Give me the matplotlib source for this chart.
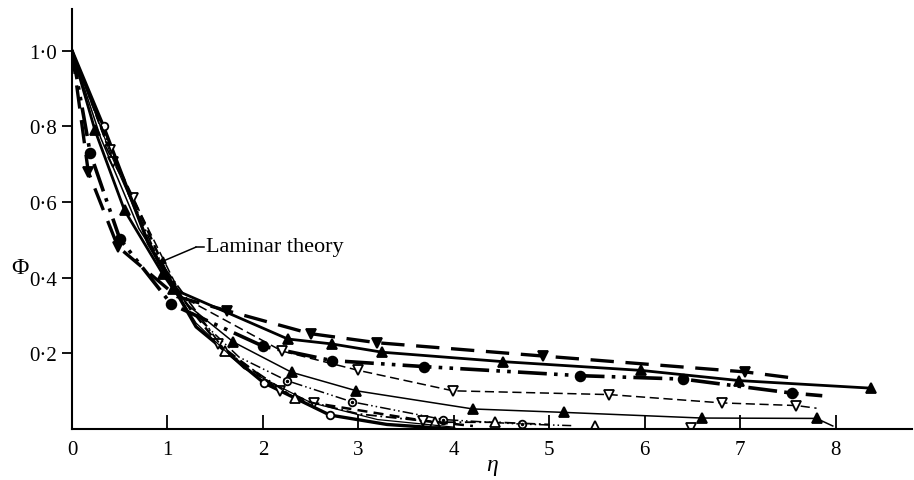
import numpy as np
import matplotlib
matplotlib.use("Agg")
import matplotlib.pyplot as plt

plt.rcParams['font.family'] = ['Liberation Serif', 'DejaVu Serif']

# ---- data (eta, phi) ----
# upper group
tri_down_x = [0, 0.17, 0.48, 1.10, 1.62, 2.50, 3.20, 4.93, 7.05, 7.55]
tri_down_y = [1.0, 0.68, 0.482, 0.35, 0.313, 0.252, 0.228, 0.193, 0.151, 0.135]
tri_down_mk = [1, 2, 4, 5, 6, 7, 8]

tri_up_x = [0, 0.24, 0.55, 0.95, 1.06, 2.26, 2.72, 3.25, 4.52, 5.96, 6.99, 8.37]
tri_up_y = [1.0, 0.79, 0.578, 0.41, 0.37, 0.238, 0.225, 0.203, 0.178, 0.155, 0.128, 0.108]
tri_up_mk = [1, 2, 3, 4, 5, 6, 7, 8, 9, 10, 11]

dot_x = [0, 0.19, 0.50, 1.04, 2.00, 2.72, 3.69, 5.32, 6.40, 7.54, 7.86]
dot_y = [1.0, 0.73, 0.503, 0.33, 0.219, 0.181, 0.165, 0.141, 0.132, 0.095, 0.088]
dot_mk = [1, 2, 3, 4, 5, 6, 7, 8, 9]

otri_down_x = [0, 0.43, 0.64, 1.15, 2.20, 3.00, 3.99, 5.63, 6.81, 7.59, 7.80]
otri_down_y = [1.0, 0.707, 0.61, 0.35, 0.206, 0.155, 0.101, 0.091, 0.069, 0.062, 0.055]
otri_down_mk = [1, 2, 4, 5, 6, 7, 8, 9]

# lower group
tri_up2_x = [0, 0.30, 0.70, 1.20, 1.69, 2.30, 2.98, 4.20, 5.15, 6.60, 7.80, 7.97]
tri_up2_y = [1.0, 0.77, 0.53, 0.33, 0.23, 0.15, 0.101, 0.053, 0.044, 0.029, 0.028, 0.008]
tri_up2_mk = [4, 5, 6, 7, 8, 9, 10]

ring_x = [0, 0.33, 0.75, 1.25, 1.75, 2.25, 2.93, 3.89, 4.71, 5.23]
ring_y = [1.0, 0.80, 0.52, 0.31, 0.19, 0.128, 0.072, 0.025, 0.013, 0.009]
ring_mk = [5, 6, 7, 8]

circ_x = [0, 0.33, 0.80, 1.30, 2.01, 2.70, 3.30, 4.00]
circ_y = [1.0, 0.80, 0.49, 0.27, 0.122, 0.037, 0.012, 0.0]
circ_mk = [1, 4, 5]

otri_down2_x = [0, 0.40, 0.64, 1.05, 1.53, 2.18, 2.53, 3.68, 4.20]
otri_down2_y = [1.0, 0.737, 0.61, 0.38, 0.225, 0.101, 0.069, 0.022, 0.008]
otri_down2_mk = [1, 4, 5, 6, 7]
otri_down2_extra_x = [6.49]
otri_down2_extra_y = [0.004]

otri_up_x = [0, 0.40, 0.90, 1.60, 2.34, 3.00, 3.80, 4.43, 5.00]
otri_up_y = [1.0, 0.74, 0.45, 0.207, 0.081, 0.04, 0.018, 0.018, 0.012]
otri_up_mk = [3, 4, 6, 7]
otri_up_extra_x = [5.48]
otri_up_extra_y = [0.009]

lam_x = [0, 0.40, 0.90, 1.30, 1.80, 2.50, 3.20, 4.00]
lam_y = [1.0, 0.73, 0.44, 0.28, 0.16, 0.07, 0.025, 0.005]

fig = plt.figure(figsize=(9.14, 4.81), dpi=100)
ax = fig.add_axes([0.0788, 0.106, 0.919, 0.873])

def curve(x, y, mk, marker, ls, lw, fill=True, ms=7):
    x = np.array(x)
    y = np.array(y)
    ax.plot(x, y, color='black', ls=ls, lw=lw)
    ax.plot(x[mk], y[mk], ls='none', marker=marker, ms=ms,
            mfc='black' if fill else 'white', mec='black', mew=1.3)

curve(tri_down_x, tri_down_y, tri_down_mk, 'v', (0, (7, 3.5)), 2.4)
curve(tri_up_x, tri_up_y, tri_up_mk, '^', '-', 2.0)
curve(dot_x, dot_y, dot_mk, 'o', (0, (8, 2, 1, 2, 1, 2)), 2.6)
curve(otri_down_x, otri_down_y, otri_down_mk, 'v', (0, (6, 3)), 1.1, fill=False)
curve(tri_up2_x, tri_up2_y, tri_up2_mk, '^', '-', 1.1)
curve(ring_x, ring_y, ring_mk, 'o', (0, (7, 2, 1, 2, 1, 2)), 1.1, fill=False, ms=5.5)
ax.plot(np.array(ring_x)[ring_mk], np.array(ring_y)[ring_mk], ls='none',
        marker='o', ms=1.5, color='black')
curve(circ_x, circ_y, circ_mk, 'o', '-', 2.4, fill=False, ms=5.5)
curve(otri_down2_x, otri_down2_y, otri_down2_mk, 'v', (0, (4, 2.5)), 1.8, fill=False)
ax.plot(otri_down2_extra_x, otri_down2_extra_y, ls='none', marker='v', ms=7,
        mfc='white', mec='black', mew=1.3)
curve(otri_up_x, otri_up_y, otri_up_mk, '^', (0, (6, 2, 1, 2)), 1.3, fill=False)
ax.plot(otri_up_extra_x, otri_up_extra_y, ls='none', marker='^', ms=7,
        mfc='white', mec='black', mew=1.3)
ax.plot(lam_x, lam_y, color='black', lw=0.9)

# label with a bent leader: short horizontal piece, then the arrow
ax.text(1.40, 0.482, 'Laminar theory', fontsize=16, va='center', ha='left')
ax.plot([1.38, 1.30], [0.481, 0.481], color='black', lw=1.1)
ax.annotate('', xy=(0.89, 0.437), xytext=(1.30, 0.481),
            arrowprops=dict(arrowstyle='-|>', color='black', lw=1.1,
                            mutation_scale=12, shrinkA=0, shrinkB=0))

ax.set_xlim(0, 8.8)
ax.set_ylim(0, 1.11)
ax.spines['top'].set_visible(False)
ax.spines['right'].set_visible(False)
ax.spines['left'].set_linewidth(1.5)
ax.spines['bottom'].set_linewidth(1.5)

ax.set_xticks(range(0, 9))
ax.set_xticklabels([str(i) for i in range(0, 9)], fontsize=15)
ax.set_yticks([0.2, 0.4, 0.6, 0.8, 1.0])
ax.set_yticklabels(['0·2', '0·4', '0·6', '0·8', '1·0'], fontsize=15)
ax.tick_params(axis='x', direction='in', length=10, width=1.3, pad=8)
ax.tick_params(axis='y', direction='out', length=7, width=1.3, pad=4)

ax.set_xlabel('η', fontsize=17, fontstyle='italic', labelpad=-4)
fig.text(20 / 914, 1 - 268 / 481, 'Φ', fontsize=17, ha='center', va='center')

fig.savefig('out.png', dpi=100)
